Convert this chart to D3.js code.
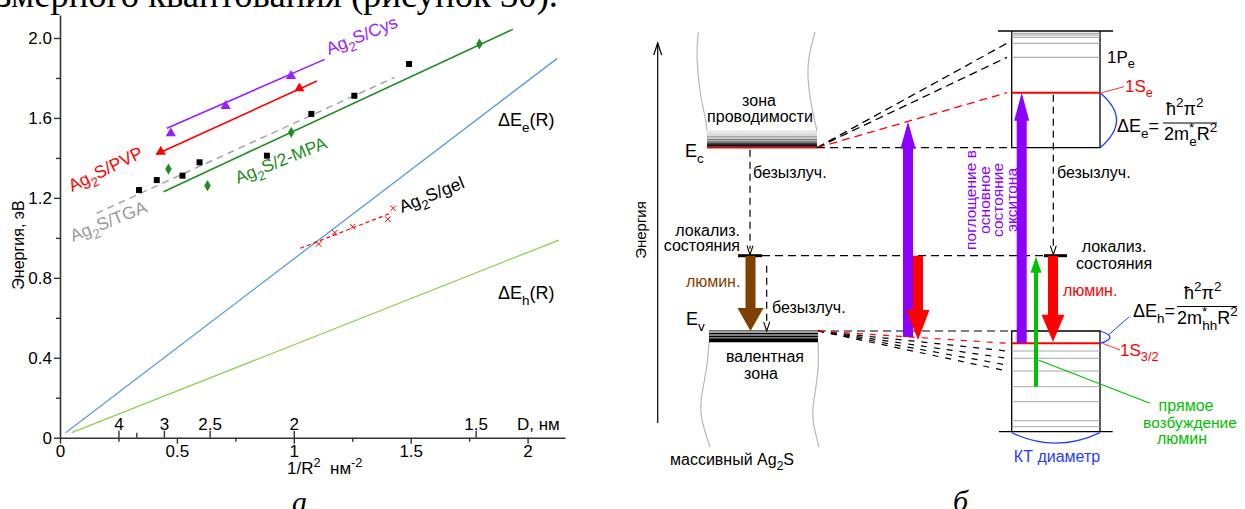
<!DOCTYPE html>
<html>
<head>
<meta charset="utf-8">
<script src="https://cdn.jsdelivr.net/npm/d3@7"></script>
<style>
  body { margin: 0; background: #fff; }
  svg { display: block; }
</style>
</head>
<body>
<script>
// ---------- data: left chart (a) ----------
const xTicks = [0, 0.5, 1, 1.5, 2];
const xMinor = [0.25, 0.75, 1.25, 1.75];
const yTicks = [0, 0.4, 0.8, 1.2, 1.6, 2.0];
const yMinor = [0.2, 0.6, 1.0, 1.4, 1.8];
const dTicks = [4, 3, 2.5, 2, 1.5];   // D, nm on top of the x axis
const dMinor = [3.5];

const cysPts = [[0.474, 1.523], [0.708, 1.66], [0.988, 1.81]];
const cysFit = [[0.457, 1.548], [1.132, 1.893]];
const pvpPts = [[0.431, 1.431], [1.024, 1.748]];
const pvpFit = [[0.412, 1.418], [1.099, 1.785]];
const mpaPts = [[0.464, 1.344], [0.631, 1.261], [0.989, 1.528], [1.794, 1.97]];
const mpaFit = [[0.443, 1.231], [1.937, 2.043]];
const tgaPts = [[0.338, 1.239], [0.414, 1.289], [0.524, 1.311], [0.597, 1.378],
                [0.885, 1.411], [1.075, 1.62], [1.259, 1.711], [1.493, 1.87]];
const tgaFit = [[0.157, 1.123], [1.431, 1.803]];
const gelPts = [[1.106, 0.969], [1.175, 1.026], [1.252, 1.056], [1.402, 1.093], [1.425, 1.148]];
const gelFit = [[1.028, 0.948], [1.42, 1.126]];
const dEe = [[0.024, 0.025], [2.127, 1.898]];
const dEh = [[0.05, 0.025], [2.134, 0.989]];

// ---------- data: scheme (b), energies in arbitrary units ----------
const qdTop = 401, qdBottom = 0.3;
const qdFine = [398.7, 397, 394.7, 388.7];
const level1Pe = 374.7, level1Se = 339.3;
const levelEc = 284.3, levelLoc = 176.3, levelEv = 101, level1S32 = 88.7;
const qdLower = [81, 73.7, 61, 45.3, 30.3, 11.3, 5.3];
const cbLines = [301, 299, 297, 295.5, 294, 292.5, 291, 290, 289, 288, 287, 286];
const vbLines = [101.3, 100, 98.5, 97, 95.5, 94, 92.6, 91.6, 90.6];
const fanUp = [388.7, 374.7];
const fanDown = [81, 73.7, 67, 61];

const FONT = "'Liberation Sans', Arial, sans-serif";
const SERIF = "'Liberation Serif', 'Times New Roman', serif";

const svg = d3.select("body").append("svg")
    .attr("width", 1245).attr("height", 509)
    .style("font-family", FONT);

// text with sub/superscripts: parts = [[text, kind, dx]]
function rich(sel, parts, size) {
    let cur = 0;
    parts.forEach(([t, k, dx]) => {
        const off = k === "sub" ? size * 0.32 : k === "sup" ? -size * 0.42 : 0;
        const ts = sel.append("tspan")
            .attr("dy", off - cur)
            .style("font-size", (k === "n" ? size : size * 0.75) + "px")
            .text(t);
        if (dx) ts.attr("dx", dx);
        cur = off;
    });
    return sel;
}

// caption cut by the crop
svg.append("text")
    .attr("x", -3).attr("y", 7)
    .attr("textLength", 561).attr("lengthAdjust", "spacingAndGlyphs")
    .style("font-family", SERIF).style("font-size", "38px")
    .text("змерного квантования (рисунок 30).");

// ================= (a) =================
const x = d3.scaleLinear().domain([0, 2.16]).range([60, 565]);
const y = d3.scaleLinear().domain([0, 2.115]).range([437.7, 15]);
const L = svg.append("g");

function styleAxis(g) {
    g.attr("font-family", FONT).attr("font-size", 17);
    g.selectAll("text").attr("fill", "#000");
    g.selectAll("line").attr("stroke", "#333").attr("stroke-width", 1.4);
    g.select(".domain").attr("stroke", "#333").attr("stroke-width", 1.6);
}

L.append("g").attr("transform", "translate(60,0)")
    .call(d3.axisLeft(y).tickValues(yTicks).tickFormat(d => d === 0 ? "0" : d.toFixed(1))
        .tickSize(6).tickSizeOuter(0).tickPadding(2))
    .call(styleAxis);
L.append("g").attr("transform", "translate(60,0)")
    .call(d3.axisLeft(y).tickValues(yMinor).tickFormat("").tickSize(4).tickSizeOuter(0))
    .call(styleAxis).select(".domain").remove();

L.append("g").attr("transform", `translate(0,${y(0)})`)
    .call(d3.axisBottom(x).tickValues(xTicks).tickFormat(d3.format("~g"))
        .tickSize(6).tickSizeOuter(0).tickPadding(1))
    .call(styleAxis);
L.append("g").attr("transform", `translate(0,${y(0)})`)
    .call(d3.axisBottom(x).tickValues(xMinor).tickFormat("").tickSize(4).tickSizeOuter(0))
    .call(styleAxis).select(".domain").remove();

// top scale in particle diameter D = 2R, 1/R^2 = 4/D^2
L.append("g").attr("transform", `translate(0,${y(0)})`)
    .call(d3.axisTop(x).tickValues(dTicks.map(d => 4 / (d * d)))
        .tickFormat((v, i) => String(dTicks[i])).tickSize(7).tickSizeOuter(0).tickPadding(1))
    .call(styleAxis).select(".domain").remove();
L.append("g").attr("transform", `translate(0,${y(0)})`)
    .call(d3.axisTop(x).tickValues(dMinor.map(d => 4 / (d * d))).tickFormat("").tickSize(5).tickSizeOuter(0))
    .call(styleAxis).select(".domain").remove();

L.append("text").attr("x", 517).attr("y", 430).style("font-size", "17px").text("D, нм");
rich(L.append("text").attr("x", 287).attr("y", 474),
    [["1/R", "n"], ["2", "sup"], ["  нм", "n"], ["-2", "sup"]], 17)
    .attr("xml:space", "preserve");
L.append("text")
    .attr("transform", "translate(24,245) rotate(-90)")
    .attr("text-anchor", "middle").style("font-size", "16px")
    .text("Энергия, эВ");

const ln = d3.line().x(d => x(d[0])).y(d => y(d[1]));

L.append("path").attr("d", ln(dEe)).attr("fill", "none").attr("stroke", "#5b9bd5").attr("stroke-width", 1.3);
L.append("path").attr("d", ln(dEh)).attr("fill", "none").attr("stroke", "#8fd14f").attr("stroke-width", 1.3);

const cPur = "#9b1cff", cRed = "#ff0000", cGrn = "#1e8c1e", cGray = "#a6a6a6";

L.append("path").attr("d", ln(tgaFit)).attr("fill", "none").attr("stroke", cGray)
    .attr("stroke-width", 1.5).attr("stroke-dasharray", "7,5");
L.append("path").attr("d", ln(cysFit)).attr("fill", "none").attr("stroke", cPur).attr("stroke-width", 1.6);
L.append("path").attr("d", ln(pvpFit)).attr("fill", "none").attr("stroke", cRed).attr("stroke-width", 1.6);
L.append("path").attr("d", ln(mpaFit)).attr("fill", "none").attr("stroke", cGrn).attr("stroke-width", 1.6);
L.append("path").attr("d", ln(gelFit)).attr("fill", "none").attr("stroke", cRed)
    .attr("stroke-width", 1.2).attr("stroke-dasharray", "4,3");

function marks(pts, type, size, fill, stroke) {
    L.append("g").selectAll("path").data(pts).join("path")
        .attr("transform", d => `translate(${x(d[0])},${y(d[1])})`)
        .attr("d", d3.symbol(type, size))
        .attr("fill", fill).attr("stroke", stroke || "none");
}
marks(cysPts, d3.symbolTriangle, 45, cPur);
marks(pvpPts, d3.symbolTriangle, 45, cRed);
marks(mpaPts, d3.symbolDiamond, 36, cGrn);
marks(tgaPts, d3.symbolSquare, 36, "#000");
marks(gelPts, d3.symbolTimes, 22, "none", cRed);

function seriesLabel(px, py, rot, color, rest) {
    rich(L.append("text").attr("transform", `translate(${px},${py}) rotate(${rot})`).attr("fill", color),
        [["Ag", "n"], ["2", "sub"], [rest, "n"]], 17.5);
}
seriesLabel(72, 192, -26, cRed, "S/PVP");
seriesLabel(73, 242, -22, "#9a9a9a", "S/TGA");
seriesLabel(238, 184, -22, cGrn, "S/2-MPA");
seriesLabel(329, 55, -22, cPur, "S/Cys");
seriesLabel(402, 213, -22, "#000", "S/gel");

rich(L.append("text").attr("x", 498).attr("y", 126),
    [["ΔE", "n"], ["e", "sub"], ["(R)", "n"]], 18);
rich(L.append("text").attr("x", 498).attr("y", 299),
    [["ΔE", "n"], ["h", "sub"], ["(R)", "n"]], 18);

svg.append("text").attr("x", 292).attr("y", 512)
    .style("font-family", SERIF).style("font-style", "italic").style("font-size", "30px").text("а");

// ================= (б) =================
const ex = d3.scaleLinear().domain([0, 600]).range([640, 1240]);
const ey = d3.scaleLinear().domain([0, 400]).range([432, 32]);
const R = svg.append("g");
const dl = d3.line().x(d => ex(d[0])).y(d => ey(d[1]));
const curve = d3.line().x(d => ex(d[0])).y(d => ey(d[1])).curve(d3.curveBasis);

function seg(p, color, w, dash) {
    const s = R.append("path").attr("d", dl(p)).attr("fill", "none")
        .attr("stroke", color).attr("stroke-width", w);
    if (dash) s.attr("stroke-dasharray", dash);
    return s;
}
function fatArrow(u, eFrom, eTo, w, hw, hl, color) {
    const x0 = ex(u), y0 = ey(eFrom), y1 = ey(eTo);
    const dir = y1 > y0 ? 1 : -1, yb = y1 - dir * hl;
    const pts = [[x0 - w / 2, y0], [x0 - w / 2, yb], [x0 - hw / 2, yb], [x0, y1],
                 [x0 + hw / 2, yb], [x0 + w / 2, yb], [x0 + w / 2, y0]];
    R.append("path").attr("d", d3.line()(pts) + "Z").attr("fill", color);
}
function dashArrow(u, eFrom, eTo) {
    seg([[u, eFrom], [u, eTo + 6]], "#000", 1.2, "7,5");
    const xx = ex(u), yy = ey(eTo);
    R.append("path").attr("d", `M${xx - 3},${yy - 9}L${xx},${yy}L${xx + 3},${yy - 9}`)
        .attr("fill", "none").attr("stroke", "#000").attr("stroke-width", 1.1);
}

// energy axis
seg([[17.7, 9], [17.7, 389]], "#000", 1.2);
R.append("path").attr("d", `M${ex(17.7) - 4},${ey(389) + 12}L${ex(17.7)},${ey(389)}L${ex(17.7) + 4},${ey(389) + 12}`)
    .attr("fill", "none").attr("stroke", "#000").attr("stroke-width", 1.2);
R.append("text").attr("transform", `translate(${ex(6)},230) rotate(-90)`)
    .attr("text-anchor", "middle").style("font-size", "15px").text("Энергия");

// bulk Ag2S boundaries
const wavy = [
    [[58.3, 400], [56, 377], [60, 337], [66, 312], [67, 301]],
    [[175, 400], [166, 367], [170, 332], [177, 301]],
    [[69, 90], [67, 62], [60, 32], [61, 12], [70, -15]],
    [[178, 90], [179, 62], [173, 29], [172, 12], [179, -15]]
];
wavy.forEach(p => R.append("path").attr("d", curve(p)).attr("fill", "none")
    .attr("stroke", "#b8b8b8").attr("stroke-width", 1.2));

cbLines.forEach((e, i) => seg([[67, e], [177, e]],
    d3.interpolateGreys(0.25 + 0.75 * i / (cbLines.length - 1)), i > cbLines.length - 4 ? 1.6 : 1));
seg([[67, levelEc], [177, levelEc]], cRed, 1.4);
vbLines.forEach((e, i) => seg([[69, e], [178, e]], i < 2 ? "#555" : "#000", i > 5 ? 1.8 : 1));

// quantum dot box
seg([[358, qdTop], [473, qdTop]], "#000", 1.3);
seg([[371.7, qdTop], [371.7, levelEc], [460, levelEc], [460, qdTop]], "#000", 1.3);
qdFine.forEach(e => seg([[371.7, e], [460, e]], "#999", 1));
seg([[371.7, level1Pe], [460, level1Pe]], "#999", 1);
seg([[371.7, level1Se], [460, level1Se]], cRed, 2);
seg([[359, qdBottom], [472.7, qdBottom]], "#000", 1.3);
seg([[371.7, qdBottom], [371.7, levelEv], [460, levelEv], [460, qdBottom]], "#000", 1.3);
qdLower.forEach(e => seg([[371.7, e], [460, e]], "#a8a8a8", 1));
seg([[371.7, level1S32], [460, level1S32]], cRed, 2);

// correlation dashes
fanUp.forEach(e => seg([[177, levelEc], [367, e]], "#000", 1.3, "8,5"));
seg([[177, levelEc], [367, level1Se]], cRed, 1.3, "8,5");
seg([[177, levelEc], [371.7, levelEc]], "#000", 1.2, "8,5");
seg([[122, levelLoc], [404, levelLoc]], "#000", 1.2, "8,5");
seg([[178, levelEv], [371.7, levelEv]], "#000", 1.2, "8,5");
fanDown.forEach(e => seg([[178, levelEv], [367, e]], "#000", 1.2, "6,7"));
seg([[178, levelEv], [367, level1S32]], cRed, 1.2, "6,7");

// localized states
seg([[98, levelLoc], [122, levelLoc]], "#000", 3);
seg([[404, levelLoc], [427, levelLoc]], "#000", 3);

// transitions
dashArrow(110, levelEc - 2, levelLoc + 1);
dashArrow(126.7, levelLoc - 10, levelEv);
dashArrow(413.3, level1Se - 2, levelLoc + 1);
fatArrow(110.5, levelLoc, levelEv, 10, 26, 23, "#7f4000");
fatArrow(268, 95, 310.5, 10, 15, 27, "#8b00ff");
fatArrow(278, levelLoc, 92, 10, 23, 30, cRed);
fatArrow(381.7, 89, level1Se, 10, 15, 28, "#8b00ff");
fatArrow(413, levelLoc, 90.3, 10, 23, 27, cRed);
fatArrow(396, 45.3, 175.3, 4, 11, 16, "#00c000");

// arcs and leaders
const cBlue = "#1f3cff";
R.append("path").attr("d", `M${ex(460)},${ey(level1Se)}Q${ex(493)},${(ey(level1Se) + ey(levelEc)) / 2} ${ex(460)},${ey(levelEc)}`)
    .attr("fill", "none").attr("stroke", cBlue).attr("stroke-width", 1.3);
R.append("path").attr("d", `M${ex(460)},${ey(levelEv)}Q${ex(480)},${(ey(levelEv) + ey(level1S32)) / 2} ${ex(460)},${ey(level1S32)}`)
    .attr("fill", "none").attr("stroke", cBlue).attr("stroke-width", 1.3);
R.append("path").attr("d", `M${ex(371.7)},${ey(qdBottom) + 1}Q${ex(415.8)},${ey(qdBottom) + 22} ${ex(460)},${ey(qdBottom) + 1}`)
    .attr("fill", "none").attr("stroke", cBlue).attr("stroke-width", 1.3);
seg([[468.3, 97], [489.3, 115.3]], cBlue, 1);
seg([[461.7, level1Se], [484, 345.3]], cRed, 0.8);
seg([[462.7, level1S32], [480, 82]], cRed, 0.8);
seg([[398.3, 72], [510, 28.7]], "#00c000", 1.1);

// texts of scheme
function tx(px, py, str, opt) {
    const o = opt || {};
    return R.append("text").attr("x", px).attr("y", py)
        .attr("text-anchor", o.anchor || "start")
        .attr("fill", o.color || "#000")
        .style("font-size", (o.size || 16) + "px").text(str);
}
tx(759, 106, "зона", { anchor: "middle" });
tx(760, 122, "проводимости", { anchor: "middle" });
rich(R.append("text").attr("x", 685).attr("y", 157), [["E", "n"], ["c", "sub"]], 18);
rich(R.append("text").attr("x", 686).attr("y", 325), [["E", "n"], ["v", "sub"]], 18);
tx(753, 178, "безызлуч.");
tx(740, 236, "локализ.", { anchor: "end" });
tx(740, 251, "состояния", { anchor: "end" });
tx(686, 287, "люмин.", { color: "#7f4000" });
tx(772, 313, "безызлуч.");
tx(765, 362, "валентная", { anchor: "middle" });
tx(761, 379, "зона", { anchor: "middle" });
rich(R.append("text").attr("x", 670).attr("y", 465), [["массивный Ag", "n"], ["2", "sub"], ["S", "n"]], 16);

["поглощение в", "основное", "состояние", "экситона"].forEach((s, i) => {
    R.append("text").attr("transform", `translate(${976 + i * 13.7},200) rotate(-90)`)
        .attr("text-anchor", "middle").attr("fill", "#8b00ff")
        .style("font-size", "15.5px").text(s);
});

tx(1057, 178, "безызлуч.");
tx(1114, 252, "локализ.", { anchor: "middle" });
tx(1114, 269, "состояния", { anchor: "middle" });
tx(1063, 296, "люмин.", { color: cRed });
tx(1186, 411, "прямое", { anchor: "middle", color: "#00c000", size: 16 });
tx(1190, 428, "возбуждение", { anchor: "middle", color: "#00c000", size: 15.5 });
tx(1182, 444, "люмин", { anchor: "middle", color: "#00c000", size: 16 });
tx(1057, 462, "КТ диаметр", { anchor: "middle", color: cBlue });

rich(R.append("text").attr("x", 1107).attr("y", 63), [["1P", "n"], ["e", "sub"]], 17);
rich(R.append("text").attr("x", 1125).attr("y", 92).attr("fill", cRed), [["1S", "n"], ["e", "sub"]], 17);
rich(R.append("text").attr("x", 1120).attr("y", 356).attr("fill", cRed), [["1S", "n"], ["3/2", "sub"]], 17);

// formulas
rich(R.append("text").attr("x", 1117).attr("y", 132), [["ΔE", "n"], ["e", "sub"], ["=", "n"]], 18);
rich(R.append("text").attr("x", 1166).attr("y", 115), [["ħ", "n"], ["2", "sup"], ["π", "n"], ["2", "sup"]], 18);
R.append("line").attr("x1", 1163).attr("x2", 1217).attr("y1", 123).attr("y2", 123)
    .attr("stroke", "#000").attr("stroke-width", 1);
rich(R.append("text").attr("x", 1164).attr("y", 140),
    [["2m", "n"], ["*", "sup"], ["e", "sub", -5], ["R", "n"], ["2", "sup"]], 18);

rich(R.append("text").attr("x", 1133).attr("y", 317), [["ΔE", "n"], ["h", "sub"], ["=", "n"]], 18);
rich(R.append("text").attr("x", 1184).attr("y", 299), [["ħ", "n"], ["2", "sup"], ["π", "n"], ["2", "sup"]], 18);
R.append("line").attr("x1", 1177).attr("x2", 1237).attr("y1", 306.5).attr("y2", 306.5)
    .attr("stroke", "#000").attr("stroke-width", 1);
rich(R.append("text").attr("x", 1177).attr("y", 324),
    [["2m", "n"], ["*", "sup"], ["hh", "sub", -5], ["R", "n"], ["2", "sup"]], 18);

svg.append("text").attr("x", 953).attr("y", 511)
    .style("font-family", SERIF).style("font-style", "italic").style("font-size", "30px").text("б");
</script>
</body>
</html>
